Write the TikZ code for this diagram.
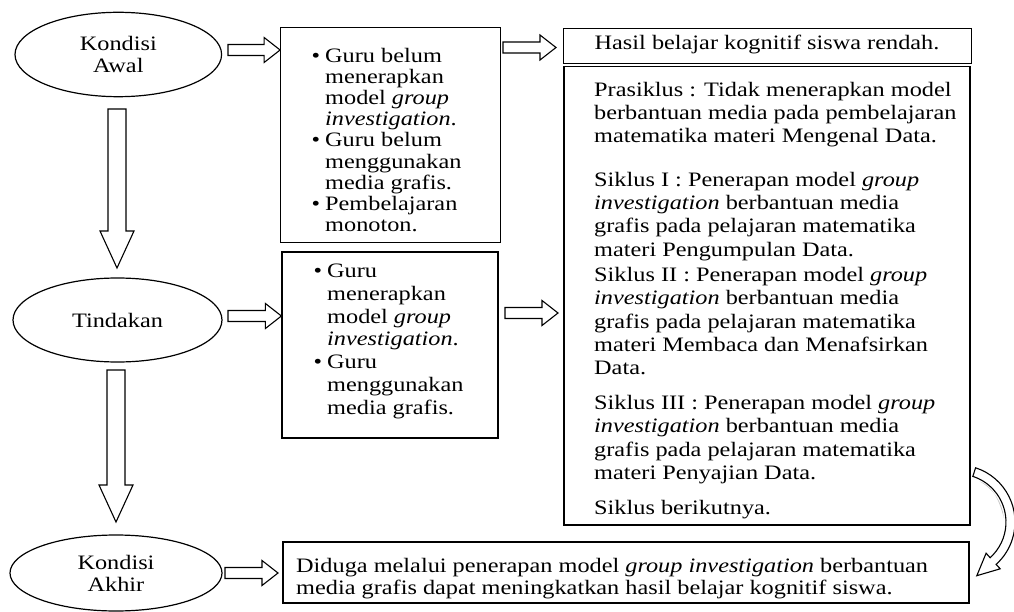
\documentclass[tikz,border=0pt]{standalone}
\usepackage{fontspec}
\setmainfont{Liberation Serif}[FakeStretch=1.185]
\usetikzlibrary{calc,shapes.geometric}
\tikzset{
  ell/.style={draw, ellipse, line width=1.2pt, inner sep=0pt, align=center, font=\fontsize{20.5}{22}\selectfont},
  box/.style={draw, rectangle, line width=1.2pt, inner sep=0pt},
  txt/.style={anchor=base west, inner sep=0pt},
  blk/.style={draw, fill=white, line width=1.1pt, line join=miter},
}
\newcommand\hblock[2]{%
  \draw[blk] let \p1=(#1), \p2=(#2) in
    (\x1,\y1+5.5pt) -- (\x2-16pt,\y1+5.5pt) -- (\x2-16pt,\y1+12.5pt) -- (\x2,\y1)
    -- (\x2-16pt,\y1-12.5pt) -- (\x2-16pt,\y1-5.5pt) -- (\x1,\y1-5.5pt) -- cycle;}
\newcommand\vblock[2]{%
  \draw[blk] let \p1=(#1), \p2=(#2) in
    (\x1-9pt,\y1) -- (\x1-9pt,\y2+37pt) -- (\x1-17pt,\y2+37pt) -- (\x1,\y2)
    -- (\x1+17pt,\y2+37pt) -- (\x1+9pt,\y2+37pt) -- (\x1+9pt,\y1) -- cycle;}
\newcommand\bul{\llap{\textbullet\hspace{5pt}}}
\newcommand\lns[1]{\begin{tabular}[t]{@{}l@{}}#1\end{tabular}}
\begin{document}
\begin{tikzpicture}[x=1pt,y=-1pt]
\useasboundingbox (0,0) rectangle (1014,612);

% ellipses
\node[ell, minimum width=206.6pt, minimum height=84.4pt] (k1) at (118.3,54.5) {Kondisi\\Awal};
\node[ell, minimum width=209pt, minimum height=84pt] (k2) at (117.5,320) {Tindakan};
\node[ell, minimum width=212pt, minimum height=76pt] (k3) at (116,573) {Kondisi\\Akhir};

% boxes
\node[box, minimum width=220pt, minimum height=215pt] (b1) at (390.7,135.2) {};
\node[box, minimum width=408pt, minimum height=35pt] (h) at (767.5,45.8) {};
\node[box, minimum width=406pt, minimum height=458.3pt] (big) at (767,295.9) {};
\node[box, minimum width=216pt, minimum height=186pt] (b2) at (390,345) {};
\node[box, minimum width=686pt, minimum height=61pt] (fin) at (626,572.5) {};

% texts
\node[inner sep=0pt, anchor=base, font=\fontsize{20.5}{22}\selectfont] (th) at (767,49.6) {Hasil belajar kognitif siswa rendah.};

\node[txt, font=\fontsize{20.5}{21.1}\selectfont] (t1) at (325,62.6)
 {\lns{\bul Guru belum\\menerapkan\\model \textit{group}\\\textit{investigation}.\\\bul Guru belum\\menggunakan\\media grafis.\\\bul Pembelajaran\\monoton.}};

\node[txt, font=\fontsize{20.5}{22.8}\selectfont] (t2) at (327,277.6)
 {\lns{\bul Guru\\menerapkan\\model \textit{group}\\\textit{investigation}.\\\bul Guru\\menggunakan\\media grafis.}};

\node[txt, font=\fontsize{20.5}{23.2}\selectfont] (p0) at (594,96.6)
 {\lns{Prasiklus : Tidak menerapkan model\\berbantuan media pada pembelajaran\\matematika materi Mengenal Data.}};
\node[txt, font=\fontsize{20.5}{23.2}\selectfont] (p1) at (594,186.6)
 {\lns{Siklus I : Penerapan model \textit{group}\\\textit{investigation} berbantuan media\\grafis pada pelajaran matematika\\materi Pengumpulan Data.}};
\node[txt, font=\fontsize{20.5}{23.2}\selectfont] (p2) at (594,281.6)
 {\lns{Siklus II : Penerapan model \textit{group}\\\textit{investigation} berbantuan media\\grafis pada pelajaran matematika\\materi Membaca dan Menafsirkan\\Data.}};
\node[txt, font=\fontsize{20.5}{23.2}\selectfont] (p3) at (594,409.6)
 {\lns{Siklus III : Penerapan model \textit{group}\\\textit{investigation} berbantuan media\\grafis pada pelajaran matematika\\materi Penyajian Data.}};
\node[txt, font=\fontsize{20.5}{23.2}\selectfont] (p4) at (594,514.6)
 {Siklus berikutnya.};

\node[txt, font=\fontsize{20.5}{22}\selectfont] (tf) at (296,572.6)
 {\lns{Diduga melalui penerapan model \textit{group investigation} berbantuan\\media grafis dapat meningkatkan hasil belajar kognitif siswa.}};

% arrow coordinates
\coordinate (a1s) at (228,50);   \coordinate (a1e) at (b1.west |- a1s);
\coordinate (a2s) at (503,47.5); \coordinate (a2e) at (556,47.5);
\coordinate (a3s) at (228,316);  \coordinate (a3e) at (b2.west |- a3s);
\coordinate (a4s) at (505,313);  \coordinate (a4e) at (558,313);
\coordinate (a5s) at (225,573);  \coordinate (a5e) at (278,573);
\coordinate (v1s) at (117,109);  \coordinate (v1e) at (117,268);
\coordinate (v2s) at (116,370);  \coordinate (v2e) at (116,522);

\hblock{a1s}{a1e}
\hblock{a2s}{a2e}
\hblock{a3s}{a3e}
\hblock{a4s}{a4e}
\hblock{a5s}{a5e}
\vblock{v1s}{v1e}
\vblock{v2s}{v2e}

% curved arrow
\fill[gray!45] (979.6,481.4) arc[start angle=-62, end angle=-5, radius=46]
   .. controls (998,495) and (990,485) .. (979.6,481.4) -- cycle;
\draw[blk] (975.6,467.8) arc[start angle=-72, end angle=48, radius=57]
   -- (1000.2,568.8) -- (976.8,575.7) -- (986.1,553.2) -- (990.1,557.7)
   arc[start angle=48, end angle=-72, radius=48] -- cycle;
\end{tikzpicture}
\end{document}
